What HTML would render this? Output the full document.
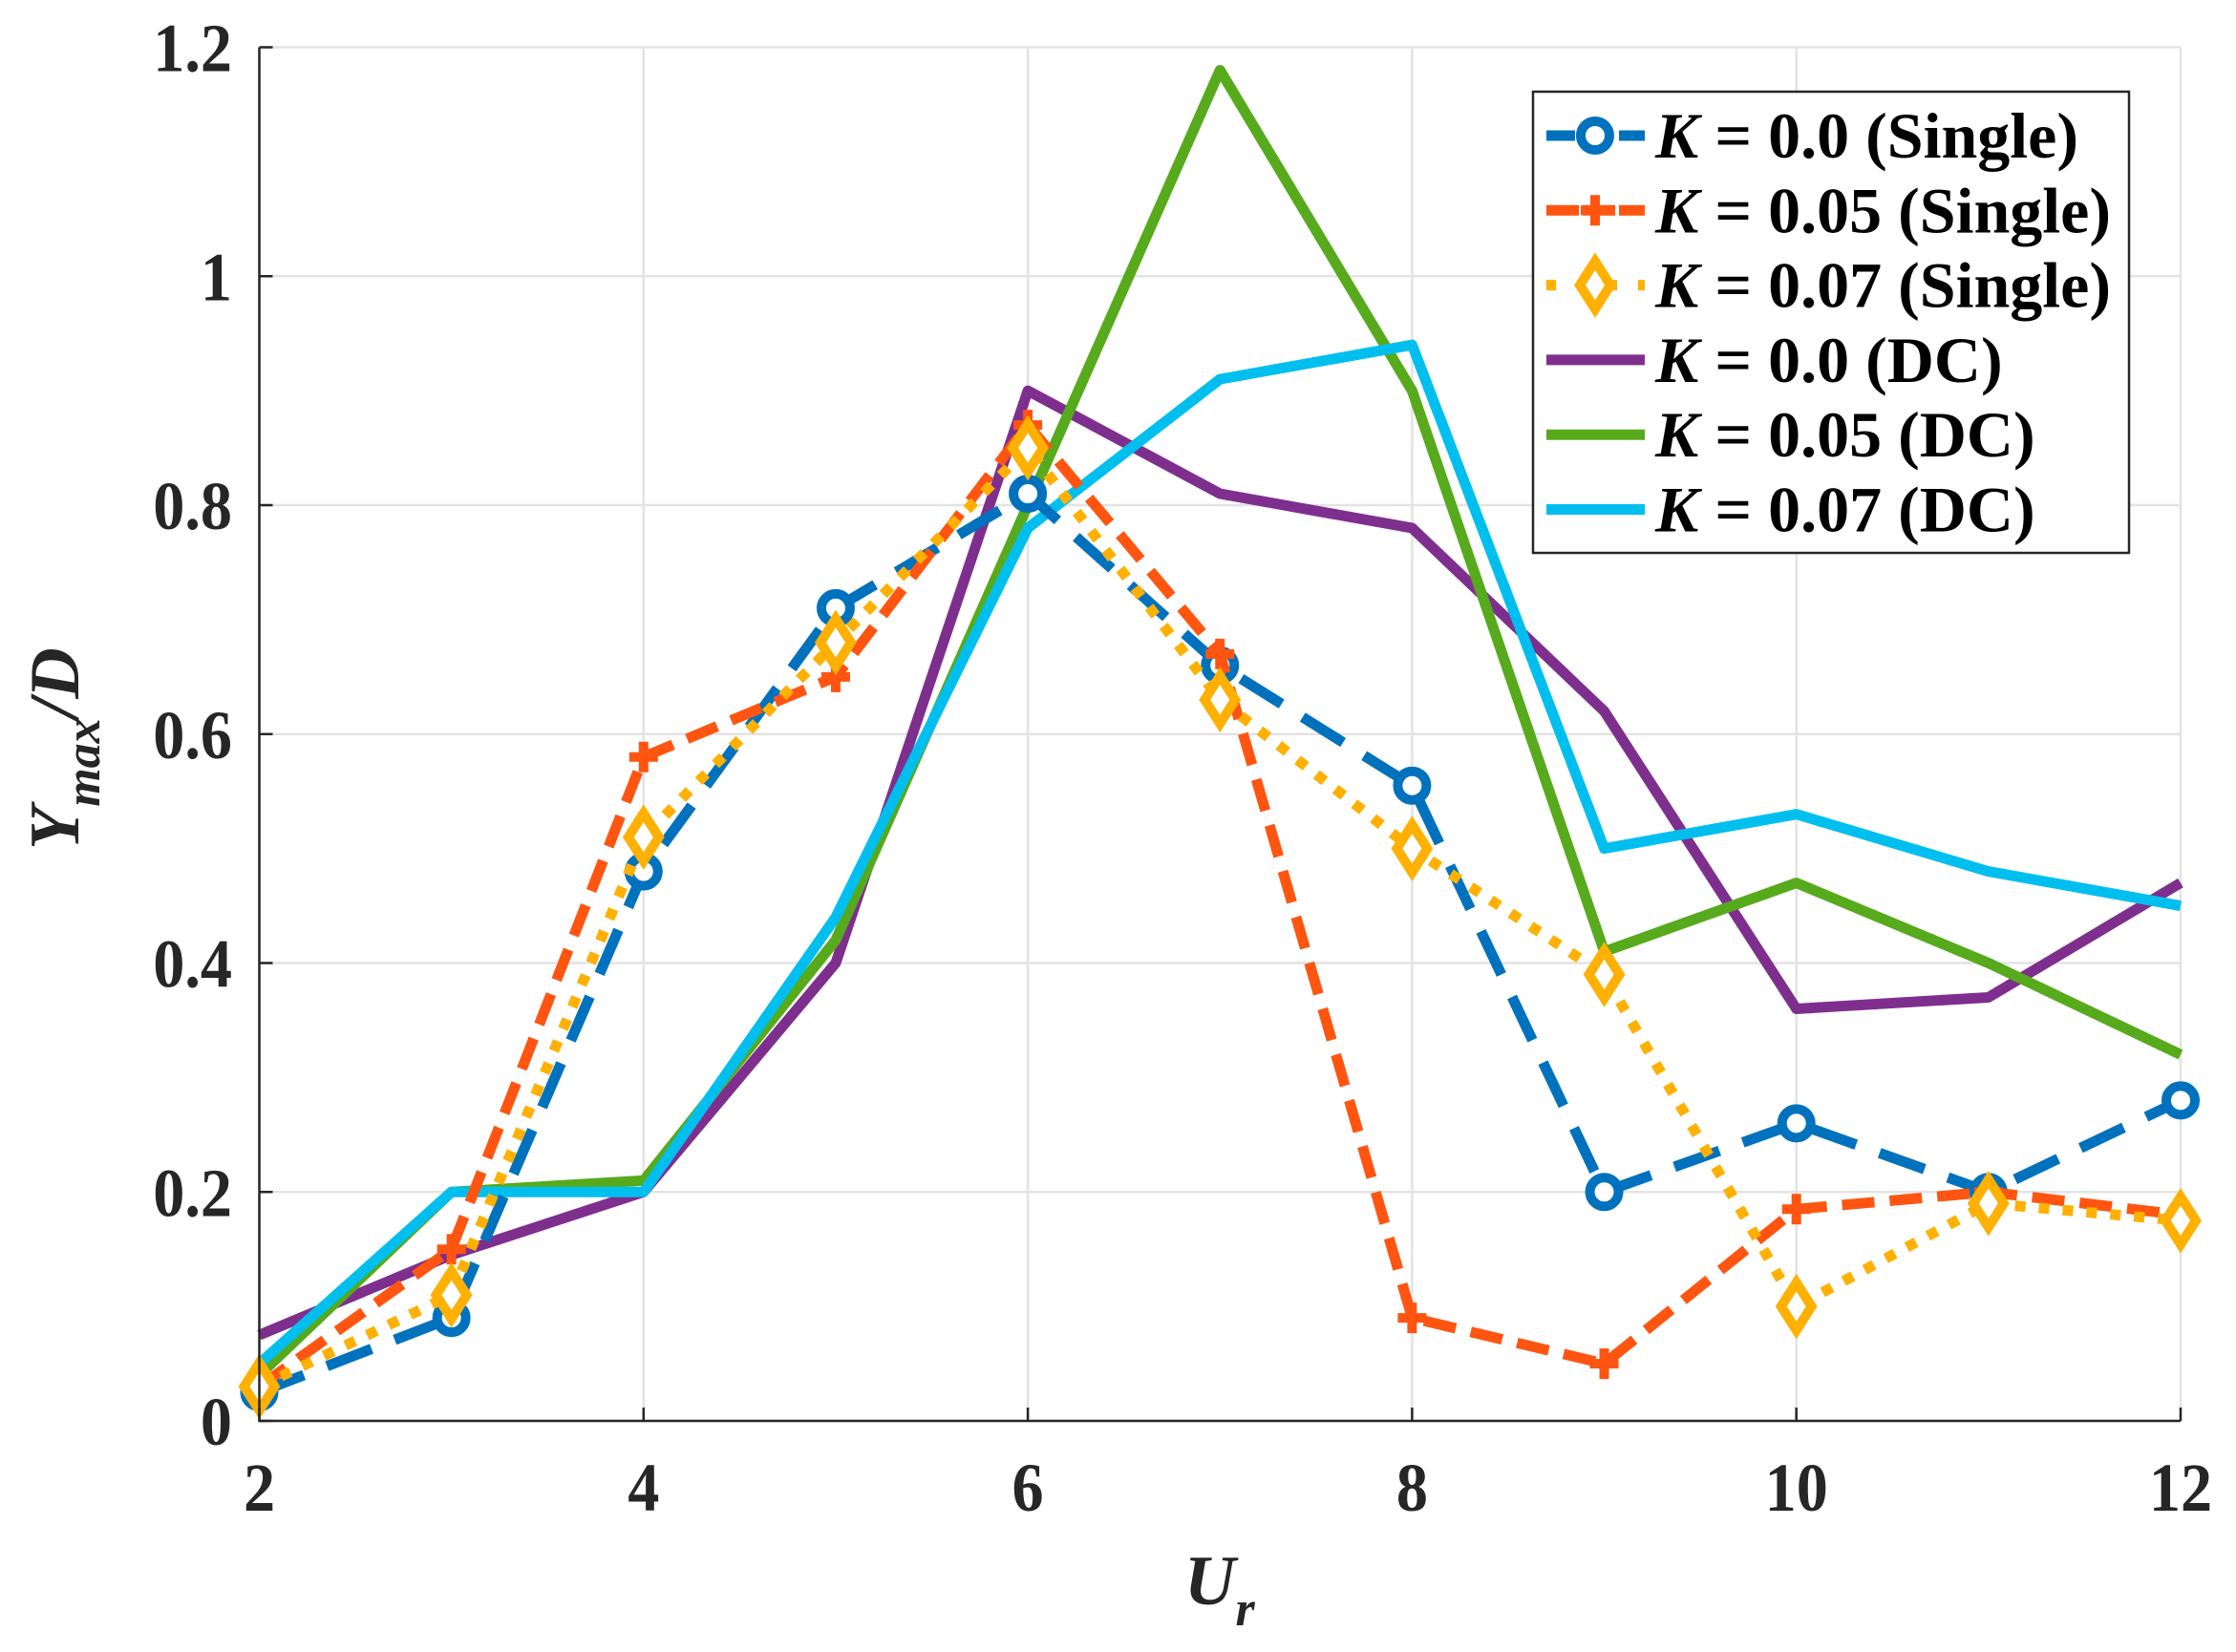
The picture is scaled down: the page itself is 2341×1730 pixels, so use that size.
<!DOCTYPE html>
<html><head><meta charset="utf-8"><style>
html,body{margin:0;padding:0;background:#fff;}
svg{display:block;font-family:"Liberation Serif",serif;font-weight:bold;}
</style></head><body>
<svg id="chart" width="2341" height="1730" viewBox="0 0 2341 1730" xmlns="http://www.w3.org/2000/svg">
<g id="grid"></g>
<g id="series"></g>
<g id="axes"></g>
<g id="legend"></g>
</svg>
<script>
const xVals = [2,3,4,5,6,7,8,9,10,11,12];
const k0Single = [0.025,0.09,0.48,0.71,0.81,0.66,0.555,0.2,0.26,0.2,0.28];
const k05Single = [0.03,0.15,0.58,0.65,0.87,0.67,0.09,0.05,0.185,0.2,0.18];
const k07Single = [0.03,0.11,0.51,0.68,0.85,0.63,0.5,0.39,0.1,0.19,0.175];
const k0DC = [0.075,0.145,0.2,0.4,0.9,0.81,0.78,0.62,0.36,0.37,0.47];
const k05DC = [0.04,0.2,0.21,0.42,0.8,1.18,0.9,0.41,0.47,0.4,0.32];
const k07DC = [0.05,0.2,0.2,0.44,0.78,0.91,0.94,0.5,0.53,0.48,0.45];
const xTicks = [2,4,6,8,10,12];
const yTicks = [0,0.2,0.4,0.6,0.8,1,1.2];
const yTickLabels = ["0","0.2","0.4","0.6","0.8","1","1.2"];
const legendLabels = ["0.0 (Single)","0.05 (Single)","0.07 (Single)","0.0 (DC)","0.05 (DC)","0.07 (DC)"];

const NS="http://www.w3.org/2000/svg";
const X0=271.5,X1=2283,Y0=1488,Y1=49.5;
const sx=v=>X0+(v-2)/(12-2)*(X1-X0);
const sy=v=>Y0-(v-0)/(1.2)*(Y0-Y1);
function mk(tag,attrs,parent){const e=document.createElementNS(NS,tag);for(const k in attrs)e.setAttribute(k,attrs[k]);parent.appendChild(e);return e;}
const grid=document.getElementById('grid'),series=document.getElementById('series'),axes=document.getElementById('axes'),legend=document.getElementById('legend');

xTicks.forEach(t=>{const l=mk('line',{x1:sx(t),x2:sx(t),y1:Y1,y2:Y0,stroke:'#e3e3e3','stroke-width':2.5},grid);

});
yTicks.forEach(t=>{const l=mk('line',{x1:X0,x2:X1,y1:sy(t),y2:sy(t),stroke:'#e3e3e3','stroke-width':2.5},grid);

});

const defs=[
 {d:k0Single,c:'#0072BD',dash:'50 26',m:'circle'},
 {d:k05Single,c:'#FF5511',dash:'34 16',m:'plus'},
 {d:k07Single,c:'#FFB000',dash:'11 14',m:'diamond'},
 {d:k0DC,c:'#7E2F8E',dash:'',m:''},
 {d:k05DC,c:'#56AA1C',dash:'',m:''},
 {d:k07DC,c:'#00BFEF',dash:'',m:''}
];
function marker(type,x,y,c,parent){
 let e;
 if(type==='circle') e=mk('circle',{cx:x,cy:y,r:15,fill:'#fff',stroke:c,'stroke-width':10},parent);
 else if(type==='plus') e=mk('path',{d:`M${x-15},${y}H${x+15}M${x},${y-16}V${y+16}`,stroke:c,'stroke-width':10,fill:'none'},parent);
 else if(type==='diamond') e=mk('path',{d:`M${x},${y-25}L${x+16},${y}L${x},${y+25}L${x-16},${y}Z`,stroke:c,'stroke-width':10,fill:'#fff'},parent);
 return e;
}
const order=[3,4,5,0,1,2];
const names=['k0-single','k05-single','k07-single','k0-dc','k05-dc','k07-dc'];
order.forEach(i=>{const s=defs[i];
 const g=mk('g',{},series);
 
 
 const pts=s.d.map((v,j)=>sx(xVals[j])+','+sy(v)).join(' ');
 const pl=mk('polyline',{points:pts,fill:'none',stroke:s.c,'stroke-width':11,'stroke-linejoin':'round'},g);
 if(s.dash)pl.setAttribute('stroke-dasharray',s.dash);
 
 
 if(s.m)s.d.forEach((v,j)=>{const e=marker(s.m,sx(xVals[j]),sy(v),s.c,g);
  
  });
});

let ax=mk('path',{d:`M${X0},${Y1}V${Y0}H${X1}`,stroke:'#262626','stroke-width':2.5,fill:'none'},axes);


xTicks.forEach(t=>{const tk=mk('line',{x1:sx(t),x2:sx(t),y1:Y0,y2:Y0-14,stroke:'#262626','stroke-width':2.5},axes);
 
 
 const tx=mk('text',{x:0,y:0,'text-anchor':'middle','font-size':72,fill:'#262626',transform:`translate(${sx(t)},1582) scale(0.92,1)`},axes);tx.textContent=t;
 
 });
yTicks.forEach((t,i)=>{const tk=mk('line',{x1:X0,x2:X0+14,y1:sy(t),y2:sy(t),stroke:'#262626','stroke-width':2.5},axes);
 
 
 const tx=mk('text',{x:0,y:0,'text-anchor':'end','font-size':72,fill:'#262626',transform:`translate(243,${sy(t)+25}) scale(0.92,1)`},axes);tx.textContent=yTickLabels[i];
 
 });

let xl=mk('text',{x:1240,y:1680,'font-size':74,'font-style':'italic',fill:'#262626'},axes);
xl.innerHTML='U<tspan font-size="52" dy="22">r</tspan>';


let yl=mk('text',{x:0,y:0,'font-size':74,'font-style':'italic',fill:'#262626',transform:'translate(82,890) rotate(-90)'},axes);
yl.innerHTML='Y<tspan font-size="52" dy="22">max</tspan><tspan dy="-22">/D</tspan>';



let box=mk('rect',{x:1605,y:96,width:624,height:483,fill:'#fff',stroke:'#262626','stroke-width':2.5},legend);


defs.forEach((s,i)=>{const y=142+i*78.3;
 const g=mk('g',{},legend);
 
 
 const ln=mk('line',{x1:1619,x2:1722,y1:y,y2:y,stroke:s.c,'stroke-width':11},g);
 if(s.dash)ln.setAttribute('stroke-dasharray',s.dash==='11 14'?'10 22':s.dash==='34 16'?'34 4':'30 8');
 if(s.m)marker(s.m,1670,y,s.c,g);
 const tx=mk('text',{x:1733,y:y+23,'font-size':68,fill:'#000'},g);
 tx.innerHTML='<tspan font-style="italic">K</tspan> = '+legendLabels[i];
});
</script>
</body></html>
